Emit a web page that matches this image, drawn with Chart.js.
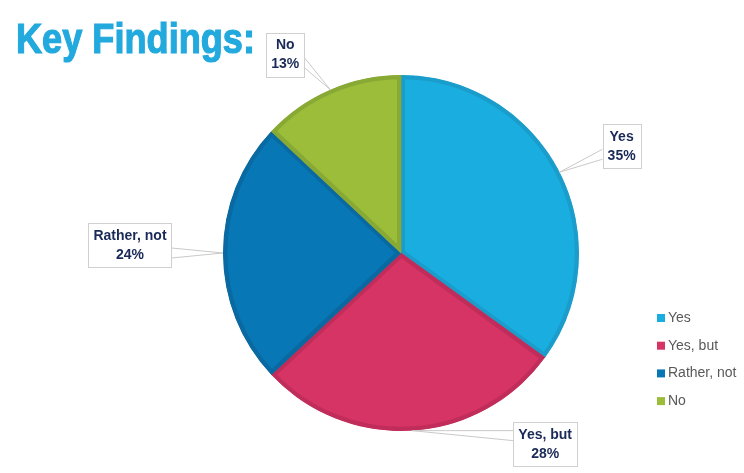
<!DOCTYPE html>
<html>
<head>
<meta charset="utf-8">
<script src="https://cdn.jsdelivr.net/npm/chart.js@4.4.0/dist/chart.umd.min.js"></script>
<style>
  body { margin: 0; background: #ffffff; }
  #wrap { width: 744px; height: 473px; }
</style>
</head>
<body>
<div id="wrap"><canvas id="myChart" width="744" height="473"></canvas></div>
<script>
// Chart data
var titleText = 'Key Findings:';
var answers = ['Yes', 'Yes, but', 'Rather, not', 'No'];
var shares = [35, 28, 24, 13];

// slice colours (fill + darker inner rim)
var fillColors = ['#1aaee0', '#d63464', '#0777b5', '#9bbd3a'];
var rimColors = ['#1b9dcc', '#c12d5a', '#0a69a1', '#89a935'];

// where each callout box sits, relative to the point on the rim
var calloutShift = [[62, -26], [133, 13], [-93, -8], [-45, -35]];

var fontFamily = 'Arial, "Liberation Sans", Helvetica, sans-serif';

// draws title, callout labels and the legend
var extrasPlugin = {
    id: 'extras',
    afterDraw: function (chart) {
        var ctx = chart.ctx;
        ctx.save();

        // title, squeezed a bit like the original, with a thin stroke to make it heavier
        ctx.fillStyle = '#22a9dd';
        ctx.strokeStyle = '#22a9dd';
        ctx.lineWidth = 1.2;
        ctx.font = 'bold 43px ' + fontFamily;
        ctx.textBaseline = 'alphabetic';
        ctx.textAlign = 'left';
        ctx.fillText(titleText, 16, 53, 239);
        ctx.strokeText(titleText, 16, 53, 239);

        // callouts
        var meta = chart.getDatasetMeta(0);
        meta.data.forEach(function (arc, i) {
            var p = arc.getProps(['x', 'y', 'startAngle', 'endAngle', 'outerRadius'], true);
            var mid = (p.startAngle + p.endAngle) / 2;
            var ax = p.x + Math.cos(mid) * p.outerRadius;
            var ay = p.y + Math.sin(mid) * p.outerRadius;

            var line1 = chart.data.labels[i];
            var line2 = chart.data.datasets[0].data[i] + '%';
            ctx.font = 'bold 14px ' + fontFamily;
            var tw = Math.max(ctx.measureText(line1).width, ctx.measureText(line2).width);
            var hw = tw / 2 + 5;
            var hh = 22;
            var cx = ax + calloutShift[i][0];
            var cy = ay + calloutShift[i][1];

            // leader wedge
            var dx = ax - cx, dy = ay - cy;
            var b1, b2;
            if (Math.abs(dx) / hw > Math.abs(dy) / hh) {
                var sx = cx + (dx > 0 ? hw : -hw);
                var by = cy + Math.max(-8, Math.min(8, dy));
                b1 = [sx, by - 5]; b2 = [sx, by + 5];
            } else {
                var sy = cy + (dy > 0 ? hh : -hh);
                var bx = cx + Math.max(-8, Math.min(8, dx));
                b1 = [bx - 5, sy]; b2 = [bx + 5, sy];
            }
            ctx.strokeStyle = '#c9c9c9';
            ctx.lineWidth = 1;
            ctx.beginPath();
            ctx.moveTo(b1[0], b1[1]);
            ctx.lineTo(ax, ay);
            ctx.lineTo(b2[0], b2[1]);
            ctx.stroke();

            // box
            ctx.fillStyle = '#ffffff';
            ctx.fillRect(cx - hw, cy - hh, hw * 2, hh * 2);
            ctx.strokeStyle = '#d0d0d0';
            ctx.strokeRect(Math.round(cx - hw) + 0.5, Math.round(cy - hh) + 0.5, Math.round(hw * 2), Math.round(hh * 2));

            // text
            ctx.fillStyle = '#1a2a58';
            ctx.textAlign = 'center';
            ctx.textBaseline = 'middle';
            ctx.fillText(line1, cx, cy - 9);
            ctx.fillText(line2, cx, cy + 10);
        });

        // legend
        ctx.font = '14px ' + fontFamily;
        ctx.textAlign = 'left';
        ctx.textBaseline = 'middle';
        chart.data.labels.forEach(function (name, i) {
            var ly = 318 + i * 27.7;
            ctx.fillStyle = fillColors[i];
            ctx.fillRect(657, ly - 4, 8, 8);
            ctx.fillStyle = '#595959';
            ctx.fillText(name, 668, ly);
        });

        ctx.restore();
    }
};

var ctx = document.getElementById('myChart').getContext('2d');
var chart = new Chart(ctx, {
    type: 'pie',
    data: {
        labels: answers,
        datasets: [{
            data: shares,
            backgroundColor: fillColors,
            borderColor: rimColors,
            borderWidth: 4,
            borderAlign: 'inner'
        }]
    },
    options: {
        responsive: false,
        animation: false,
        layout: {
            padding: { left: 223, right: 165, top: 75, bottom: 42 }
        },
        plugins: {
            legend: { display: false },
            tooltip: { enabled: false },
            title: { display: false }
        }
    },
    plugins: [extrasPlugin]
});
</script>
</body>
</html>
